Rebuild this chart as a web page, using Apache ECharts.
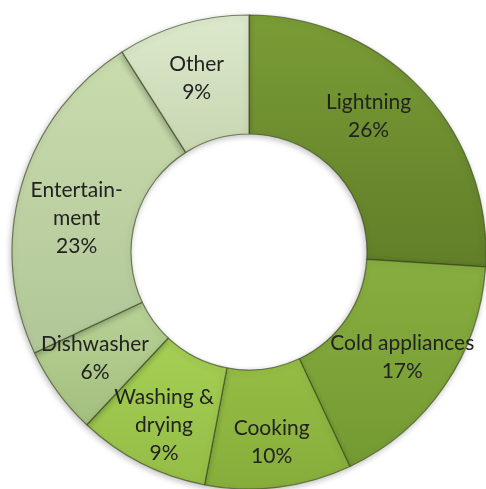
<!DOCTYPE html>
<html><head><meta charset="utf-8">
<script src="https://cdn.jsdelivr.net/npm/echarts@6/dist/echarts.min.js"></script>
<style>html,body{margin:0;padding:0;background:#fff}#c{width:486px;height:489px}</style>
</head><body><div id="c"></div>
<script>
const categories = ["Lightning", "Cold appliances", "Cooking", "Washing & drying", "Dishwasher", "Entertainment", "Other"];
const labelNames = ["Lightning", "Cold appliances", "Cooking", "Washing &\ndrying", "Dishwasher", "Entertain-\nment", "Other"];
const values = [26, 17, 10, 9, 6, 23, 9];
const topColors = ["#7a9c36", "#88ae40", "#95be45", "#a6cf55", "#b8d296", "#c9dcae", "#dde9cc"];
const bottomColors = ["#617f28", "#739a32", "#86ad3a", "#94bd46", "#a3bf7e", "#b1c697", "#c8d6b2"];
const labelShift = [[-12, -12], [4, 4], [0, 11], [-3, 12], [-8, 0], [1, 17], [-2, 0]];

const chart = echarts.init(document.getElementById('c'));
chart.setOption({
  animation: false,
  series: [{
    type: 'pie',
    center: [249, 252],
    radius: [118, 237],
    startAngle: 90,
    clockwise: true,
    avoidLabelOverlap: false,
    labelLayout: { hideOverlap: false },
    label: {
      show: true,
      position: 'inside',
      fontFamily: 'Lato',
      fontSize: 21,
      lineHeight: 28,
      color: '#222222',
      formatter: p => labelNames[p.dataIndex] + '\n' + p.value + '%'
    },
    labelLine: { show: false },
    itemStyle: {
      borderColor: 'rgba(55,70,30,0.65)',
      borderWidth: 1.2,
      shadowBlur: 6,
      shadowColor: 'rgba(0,0,0,0.25)',
      shadowOffsetX: -1,
      shadowOffsetY: 2
    },
    data: categories.map((c, i) => ({
      name: c,
      value: values[i],
      label: { offset: labelShift[i] },
      itemStyle: {
        color: new echarts.graphic.LinearGradient(0, 0, 0, 1, [
          { offset: 0, color: topColors[i] },
          { offset: 1, color: bottomColors[i] }
        ])
      }
    }))
  }]
});
</script></body></html>
